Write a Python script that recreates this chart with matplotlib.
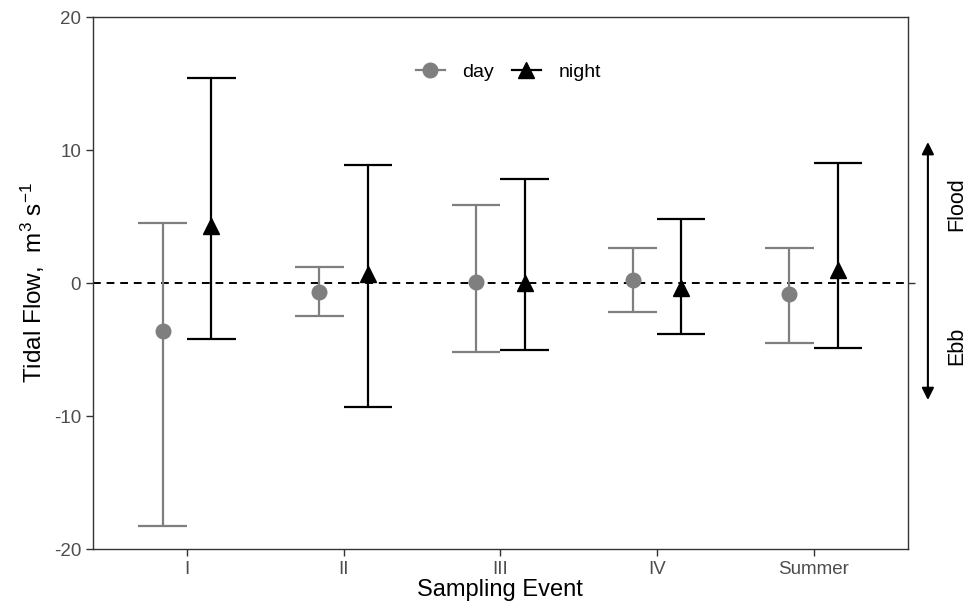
import numpy as np
import matplotlib.pyplot as plt

plt.rcParams['font.family'] = ['Liberation Sans', 'DejaVu Sans']
plt.rcParams['mathtext.fontset'] = 'custom'
plt.rcParams['mathtext.rm'] = 'Liberation Sans'
plt.rcParams['mathtext.it'] = 'Liberation Sans'
plt.rcParams['axes.unicode_minus'] = False

events = ['I', 'II', 'III', 'IV', 'Summer']

day_mean = [-3.6, -0.7, 0.1, 0.2, -0.8]
day_low = [-18.3, -2.5, -5.2, -2.2, -4.5]
day_high = [4.5, 1.2, 5.85, 2.6, 2.6]

night_mean = [4.3, 0.7, 0.0, -0.4, 1.0]
night_low = [-4.2, -9.3, -5.0, -3.8, -4.9]
night_high = [15.4, 8.9, 7.8, 4.8, 9.0]

fig, ax = plt.subplots(figsize=(9.79, 6.08), dpi=100)
fig.subplots_adjust(left=0.095, right=0.927, top=0.972, bottom=0.097)

x = np.arange(1, len(events) + 1)
dodge = 0.155
cap = 0.155

ax.axhline(0, color='black', ls=(0, (4, 3)), lw=1.4, zorder=1)

def draw_series(xs, mean, low, high, color, marker, ms, label):
    ax.vlines(xs, low, high, color=color, lw=1.6, zorder=2)
    ax.hlines(low, xs - cap, xs + cap, color=color, lw=1.6, zorder=2)
    ax.hlines(high, xs - cap, xs + cap, color=color, lw=1.6, zorder=2)
    ax.plot(xs, mean, ls='none', marker=marker, ms=ms, color=color, zorder=3)
    # legend handle: marker with line through it
    ax.plot([], [], marker=marker, ms=ms, color=color, lw=1.6, label=label)

draw_series(x - dodge, day_mean, day_low, day_high, '#7f7f7f', 'o', 10.5, 'day')
draw_series(x + dodge, night_mean, night_low, night_high, 'black', '^', 12, 'night')

ax.set_xlim(0.4, 5.6)
ax.set_ylim(-20, 20)
ax.set_xticks(x)
ax.set_xticklabels(events)
ax.set_yticks([-20, -10, 0, 10, 20])

for s in ax.spines.values():
    s.set_color('#333333')
    s.set_linewidth(1.0)

ax.tick_params(axis='both', colors='#333333', labelcolor='#4d4d4d',
               labelsize=13.5, length=5, width=1.0)

ax.set_xlabel('Sampling Event', fontsize=17, color='black', labelpad=1)
ax.set_ylabel('Tidal Flow,  m$^{3}$ s$^{-1}$', fontsize=17.5, color='black', labelpad=5)

# right axis with a single tick at zero
rax = ax.twinx()
rax.set_ylim(-20, 20)
rax.set_yticks([0])
rax.set_yticklabels([''])
rax.tick_params(axis='y', colors='#333333', length=5, width=1.0)
for s in rax.spines.values():
    s.set_visible(False)

# flood / ebb direction arrow
tr = ax.get_yaxis_transform()
ax.annotate('', xy=(1.025, 10.6), xytext=(1.025, -8.8), xycoords=tr, textcoords=tr,
            arrowprops=dict(arrowstyle='<|-|>', color='black', lw=1.5,
                            mutation_scale=18, shrinkA=0, shrinkB=0),
            annotation_clip=False)
ax.text(1.061, 5.9, 'Flood', transform=tr, rotation=90, ha='center', va='center',
        fontsize=15.5, color='black', clip_on=False)
ax.text(1.061, -4.7, 'Ebb', transform=tr, rotation=90, ha='center', va='center',
        fontsize=15.5, color='black', clip_on=False)

ax.legend(loc='center', bbox_to_anchor=(0.51, 0.897), ncol=2, frameon=False,
          fontsize=14, handlelength=1.5, columnspacing=0.9, handletextpad=0.9)

fig.savefig('out.png', dpi=100)
